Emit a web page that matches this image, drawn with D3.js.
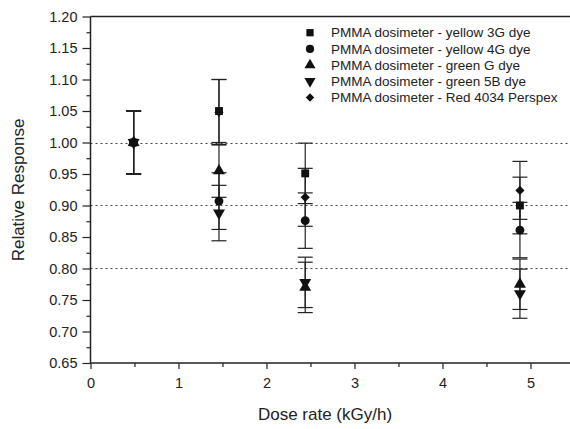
<!DOCTYPE html>
<html>
<head>
<meta charset="utf-8">
<script src="https://cdn.jsdelivr.net/npm/d3@7"></script>
<style>
  body { margin: 0; background: #fff; }
  text { font-family: "Liberation Sans", Arial, sans-serif; fill: #222; }
</style>
</head>
<body>
<div id="chart"></div>
<script>
// data
var doseRate = [0.49, 1.46, 2.44, 4.88];
var seriesNames = [
  "PMMA dosimeter - yellow 3G dye",
  "PMMA dosimeter - yellow 4G dye",
  "PMMA dosimeter - green G  dye",
  "PMMA dosimeter - green 5B dye",
  "PMMA dosimeter - Red 4034 Perspex"
];
var yellow3G = [1.00, 1.050, 0.951, 0.900];
var yellow3GErr = [0.05, 0.050, 0.048, 0.045];
var yellow4G = [1.00, 0.907, 0.876, 0.861];
var yellow4GErr = [0.05, 0.045, 0.044, 0.044];
var greenG = [1.00, 0.955, 0.770, 0.775];
var greenGErr = [0.05, 0.042, 0.040, 0.040];
var green5B = [1.00, 0.888, 0.778, 0.760];
var green5BErr = [0.05, 0.044, 0.040, 0.039];
var red4034 = [1.00, 1.048, 0.913, 0.924];
var red4034Err = [0.05, 0.052, 0.046, 0.046];
var yTicks = [0.65, 0.70, 0.75, 0.80, 0.85, 0.90, 0.95, 1.00, 1.05, 1.10, 1.15, 1.20];
var xTicks = [0, 1, 2, 3, 4, 5];
var refLines = [1.00, 0.90, 0.80];

var svgWidth = 570;
var svgHeight = 429;
var plotLeft = 90.5, plotTop = 16.5, plotBottom = 363;

var svg = d3.select("#chart")
  .append("svg")
  .attr("width", svgWidth)
  .attr("height", svgHeight);

var x = d3.scaleLinear().domain([0, 5.5]).range([plotLeft, plotLeft + 88 * 5.5]);
var y = d3.scaleLinear().domain([0.65, 1.20]).range([plotBottom, plotTop]);

// square, circle, up triangle, down triangle, diamond (square turned 45deg)
var shapes = [d3.symbolSquare, d3.symbolCircle, d3.symbolTriangle, d3.symbolTriangle, d3.symbolSquare];
var sizes = [62, 62, 62, 62, 42];
var rotations = [0, 0, 0, 180, 45];
var values = [yellow3G, yellow4G, greenG, green5B, red4034];
var errors = [yellow3GErr, yellow4GErr, greenGErr, green5BErr, red4034Err];

var series = seriesNames.map(function(name, i) {
  return {
    name: name,
    i: i,
    points: doseRate.map(function(d, j) { return { x: d, y: values[i][j], e: errors[i][j] }; })
  };
});

// dotted reference lines
svg.selectAll(".ref")
  .data(refLines)
  .enter()
  .append("line")
  .attr("x1", plotLeft)
  .attr("x2", svgWidth)
  .attr("y1", d => Math.round(y(d)) + 0.5)
  .attr("y2", d => Math.round(y(d)) + 0.5)
  .attr("stroke", "#444")
  .attr("stroke-width", 1)
  .attr("stroke-dasharray", "2,3");

// axes
var yAxis = d3.axisLeft(y).tickValues(yTicks).tickFormat(d3.format(".2f")).tickSize(8).tickPadding(5);
var yMinor = d3.axisLeft(y).tickValues(d3.range(0.675, 1.2, 0.05)).tickFormat("").tickSize(4);
var xAxis = d3.axisBottom(x).tickValues(xTicks).tickFormat(d3.format("d")).tickSize(6).tickPadding(9);
var xMinor = d3.axisBottom(x).tickValues([0.5, 1.5, 2.5, 3.5, 4.5, 5.5]).tickFormat("").tickSize(4);

[yAxis, yMinor].forEach(function(ax) {
  svg.append("g")
    .attr("transform", `translate(${plotLeft},0)`)
    .call(ax)
    .call(g => g.select(".domain").remove())
    .call(g => g.selectAll("line").attr("stroke", "#222").attr("stroke-width", 1.2))
    .call(g => g.selectAll("text").attr("font-size", 14.5).attr("fill", "#222").style("font-family", "Liberation Sans, Arial, sans-serif"));
});
[xAxis, xMinor].forEach(function(ax) {
  svg.append("g")
    .attr("transform", `translate(0,${plotBottom})`)
    .call(ax)
    .call(g => g.select(".domain").remove())
    .call(g => g.selectAll("line").attr("stroke", "#222").attr("stroke-width", 1.2))
    .call(g => g.selectAll("text").attr("font-size", 14.5).attr("fill", "#222").style("font-family", "Liberation Sans, Arial, sans-serif"));
});

// frame
svg.append("line").attr("x1", plotLeft).attr("x2", plotLeft).attr("y1", plotTop).attr("y2", plotBottom)
  .attr("stroke", "#222").attr("stroke-width", 1.5);
svg.append("line").attr("x1", plotLeft).attr("x2", svgWidth).attr("y1", plotBottom).attr("y2", plotBottom)
  .attr("stroke", "#222").attr("stroke-width", 1.5);
svg.append("line").attr("x1", plotLeft).attr("x2", svgWidth).attr("y1", plotTop).attr("y2", plotTop)
  .attr("stroke", "#222").attr("stroke-width", 1.5);

// error bars
var capW = 7.5;
series.forEach(function(s) {
  var g = svg.append("g");
  s.points.forEach(function(p) {
    var cx = x(p.x);
    g.append("line").attr("x1", cx).attr("x2", cx)
      .attr("y1", y(p.y + p.e)).attr("y2", y(p.y - p.e))
      .attr("stroke", "#222").attr("stroke-width", 1.2);
    [p.y + p.e, p.y - p.e].forEach(function(v) {
      g.append("line").attr("x1", cx - capW).attr("x2", cx + capW)
        .attr("y1", y(v)).attr("y2", y(v))
        .attr("stroke", "#222").attr("stroke-width", 1.2);
    });
  });
});

// markers
series.forEach(function(s) {
  svg.selectAll(null)
    .data(s.points)
    .enter()
    .append("path")
    .attr("d", d3.symbol().type(shapes[s.i]).size(sizes[s.i]))
    .attr("transform", d => `translate(${x(d.x)},${y(d.y)}) rotate(${rotations[s.i]})`)
    .attr("fill", "#111");
});

// legend
var legend = svg.selectAll(".legend")
  .data(series)
  .enter()
  .append("g")
  .attr("transform", (d, i) => `translate(310, ${32.7 + i * 16.2})`);
legend.append("path")
  .attr("d", d => d3.symbol().type(shapes[d.i]).size(sizes[d.i] * 0.85)())
  .attr("transform", d => `rotate(${rotations[d.i]})`)
  .attr("fill", "#111");
legend.append("text")
  .attr("x", 21)
  .attr("dy", "0.35em")
  .attr("font-size", 13.5)
  .text(d => d.name);

// axis titles
svg.append("text")
  .attr("transform", "translate(24,190) rotate(-90)")
  .attr("text-anchor", "middle")
  .attr("font-size", 17)
  .text("Relative Response");
svg.append("text")
  .attr("x", 325)
  .attr("y", 420)
  .attr("text-anchor", "middle")
  .attr("font-size", 17)
  .text("Dose rate (kGy/h)");
</script>
</body>
</html>
